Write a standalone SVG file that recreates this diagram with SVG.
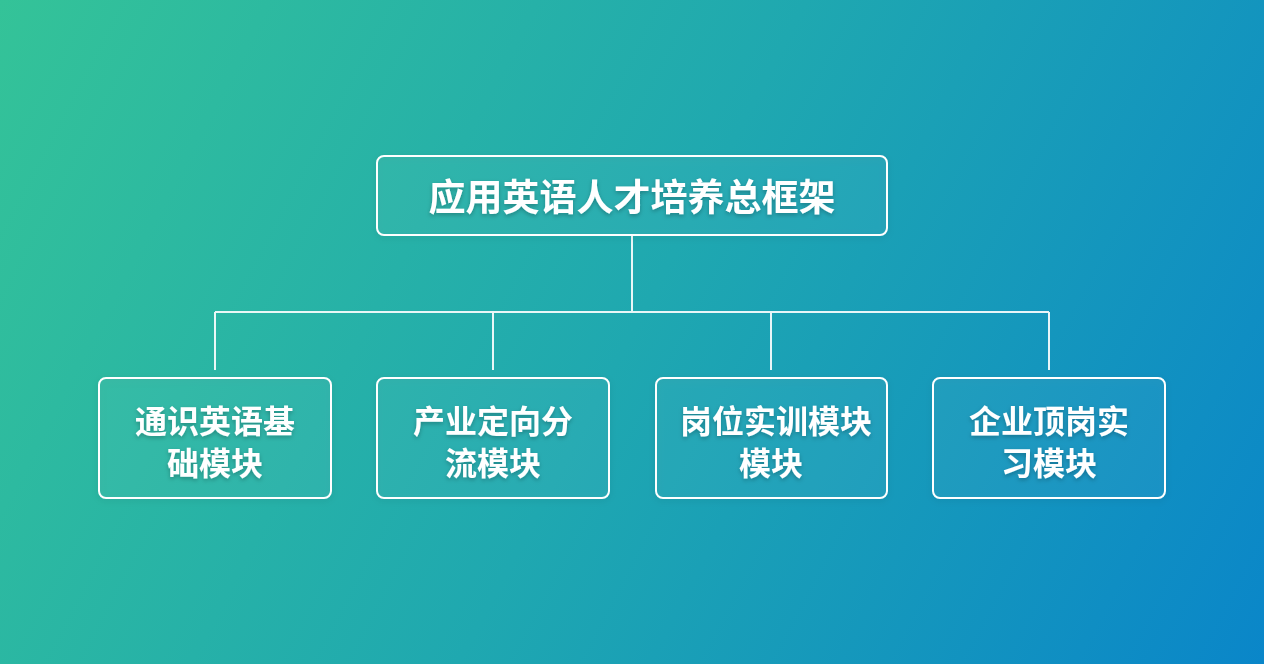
<svg xmlns="http://www.w3.org/2000/svg" width="1264" height="664" viewBox="0 0 1264 664">
<defs>
<linearGradient id="bg" x1="0" y1="0" x2="1264" y2="664" gradientUnits="userSpaceOnUse">
<stop offset="0" stop-color="#34c398"/>
<stop offset="0.5" stop-color="#1fa8b0"/>
<stop offset="1" stop-color="#0a86c9"/>
</linearGradient>
<filter id="sh" x="-10%" y="-10%" width="120%" height="130%">
<feDropShadow dx="0" dy="2" stdDeviation="2" flood-color="#000" flood-opacity="0.25"/>
</filter>
<filter id="bs" x="-10%" y="-10%" width="120%" height="130%">
<feDropShadow dx="0" dy="2" stdDeviation="3" flood-color="#000" flood-opacity="0.12"/>
</filter>
</defs>
<style>
.box{fill:#ffffff;fill-opacity:0.04;stroke:#ffffff;stroke-width:2;}
.t{font-family:"Noto Sans CJK SC","Noto Sans",sans-serif;font-weight:bold;fill:#ffffff;text-anchor:middle;}
.title{font-size:37px;}
.lab{font-size:32px;}
.ln{stroke:#ffffff;stroke-width:2;fill:none;stroke-opacity:0.9;}
</style>
<rect x="0" y="0" width="1264" height="664" fill="url(#bg)"/>
<g id="connectors">
<path class="ln" d="M632 235 V312 M215 312 H1049 M215 312 V370 M493 312 V370 M771 312 V370 M1049 312 V370"/>
</g>
<g id="root">
<rect class="box" x="377" y="156" width="510" height="79" rx="7" filter="url(#bs)"/>
<text class="t title" x="632" y="211" filter="url(#sh)">应用英语人才培养总框架</text>
</g>
<g id="n1">
<rect class="box" x="99" y="378" width="232" height="120" rx="7" filter="url(#bs)"/>
<text class="t lab" filter="url(#sh)"><tspan x="215" y="433">通识英语基</tspan><tspan x="215" y="475">础模块</tspan></text>
</g>
<g id="n2">
<rect class="box" x="377" y="378" width="232" height="120" rx="7" filter="url(#bs)"/>
<text class="t lab" filter="url(#sh)"><tspan x="493" y="433">产业定向分</tspan><tspan x="493" y="475">流模块</tspan></text>
</g>
<g id="n3">
<rect class="box" x="656" y="378" width="231" height="120" rx="7" filter="url(#bs)"/>
<text class="t lab" filter="url(#sh)"><tspan x="776" y="433">岗位实训模块</tspan><tspan x="771" y="475">模块</tspan></text>
</g>
<g id="n4">
<rect class="box" x="933" y="378" width="232" height="120" rx="7" filter="url(#bs)"/>
<text class="t lab" filter="url(#sh)"><tspan x="1049" y="433">企业顶岗实</tspan><tspan x="1049" y="475">习模块</tspan></text>
</g>
</svg>
